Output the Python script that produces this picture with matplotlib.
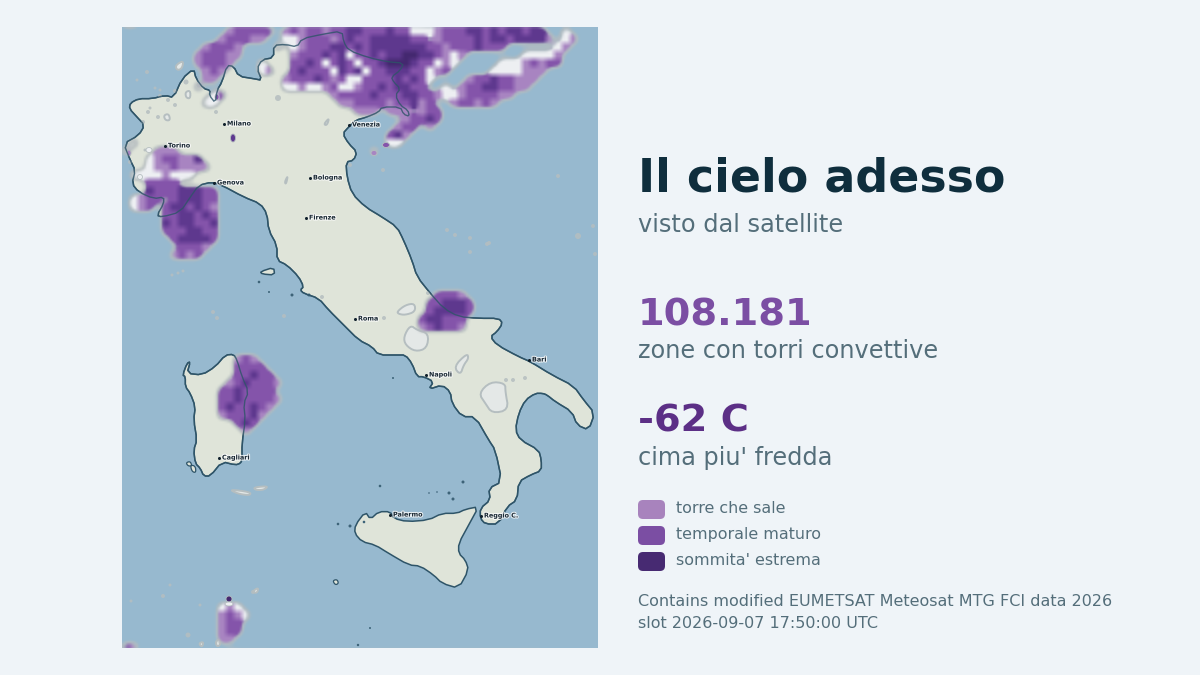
import numpy as np
import matplotlib
matplotlib.use("Agg")
import matplotlib.pyplot as plt
from matplotlib.patches import Polygon, Circle, FancyBboxPatch, Ellipse
import matplotlib.patheffects as pe

BG = "#eff4f8"; SEA = "#97b9cf"; LAND = "#dfe4d9"; COAST = "#2e5468"; GHOST = "#b5bec0"

TITLE = "Il cielo adesso"
SUBTITLE = "visto dal satellite"
STAT_VALUES = ["108.181", "-62 C"]
STAT_LABELS = ["zone con torri convettive", "cima piu' fredda"]
LEGEND_LABELS = ["torre che sale", "temporale maturo", "sommita' estrema"]
LEGEND_COLORS = ["#a883bd", "#7b4ea3", "#472a72"]
FOOTER = ["Contains modified EUMETSAT Meteosat MTG FCI data 2026", "slot 2026-09-07 17:50:00 UTC"]
CITY_NAMES = ["Milano", "Torino", "Venezia", "Genova", "Bologna", "Firenze", "Roma", "Napoli", "Bari", "Cagliari", "Palermo", "Reggio C."]
CITY_X = [224, 165, 349, 214, 310, 306, 355, 426, 529, 219, 390, 481]
CITY_Y = [124, 146, 125, 183, 178, 218, 319, 375, 360, 458, 515, 516]

# outlines in map pixels in three vertical bands
NORTH_A = [(5,350),(50,325),(68,295),(45,270),(22,245),(25,228),(50,215),(90,215),(130,205),(155,212),(180,155),(215,125),(222,155),(245,185),(265,190),(262,205),(280,228),(285,190),(300,165),(315,115),(335,118),(350,148),(395,155),(420,160),(405,125),(420,98),(455,92),(455,55),(490,52),(525,60),(540,35),(600,22),(660,12),(665,45),(680,70),(740,92),(800,105),(845,108),(835,130),(808,150),(815,165),(835,185),(820,205),(835,235),(858,250),(862,268),(845,262),(835,240),(780,240),(770,255),(735,270),(700,280),(680,300),(662,320),(680,350),(705,375),(695,400),(672,405),(675,450),(690,500),(730,540),(780,570),(825,600),(845,640),(870,700)]
MID_A = [(885,50),(925,100),(965,145),(1010,170),(1070,175),(1130,175),(1142,190),(1125,215),(1105,230),(1125,255),(1190,290),(1225,305),(1290,345),(1355,378),(1385,420),(1418,460),(1400,510),(1365,495),(1350,455),(1300,425),(1275,405),(1262,400),(1240,400),(1210,420),(1190,460),(1180,510),(1195,540),(1250,570),(1258,600)]
SOUTH_A = [(1258,62),(1225,75),(1190,95),(1185,150),(1155,170),(1130,222),(1090,222),(1075,205),(1075,175),(1105,150),(1100,115),(1140,95),(1120,0)]
MID_B = [(1100,540),(1060,470),(1020,470),(990,430),(985,395),(960,375),(920,388),(935,365),(905,350),(885,350),(870,310),(850,285),(825,285),(770,285),(750,260),(710,240),(665,195),(620,150),(590,115),(545,100),(535,90),(545,80),(530,50),(495,15)]
NORTH_B = [(465,700),(465,655),(440,610),(435,560),(415,530),(365,510),(300,475),(270,465),(230,475),(205,510),(175,555),(120,570),(105,565),(125,530),(125,510),(95,515),(50,495),(30,470),(40,430),(25,400)]
SARDINIA_MID = [(335,283),(345,300),(360,350),(380,395),(365,430),(370,480),(360,550),(360,600)]
SARDINIA_SOUTH = [(355,40),(340,45),(300,35),(265,78),(245,78),(235,55),(220,40),(215,0)]
SARDINIA_MID2 = [(225,540),(215,480),(220,440),(205,400),(190,380),(190,350),(182,345),(195,310),(205,305),(195,340),(240,345),(280,320),(310,285)]
SICILY = [(700,225),(730,185),(745,208),(770,185),(805,185),(815,205),(855,215),(920,210),(960,190),(1005,190),(1030,178),(1070,170),(1040,225),(1010,280),(1010,310),(1030,330),(1040,360),(1010,415),(960,400),(935,375),(895,348),(860,345),(800,310),(760,285),(720,275),(698,250)]
ELBA = [(415,35),(455,22),(458,45),(420,42)]
LITTLE_ISLANDS = [("s",[(192,38),(205,34),(210,48),(198,48)]),("s",[(205,45),(220,48),(222,68),(210,65)]),("s",[(632,392),(645,388),(650,400),(640,405)])]

# pale cloud shadows: (band, points)
GHOST_PATCHES = [
 ("m",[(845,230),(865,195),(885,210),(920,220),(915,265),(880,275),(850,255)]),
 ("m",[(825,155),(850,135),(878,130),(880,155),(850,165),(830,162)]),
 ("m",[(995,320),(1035,280),(1040,295),(1025,315),(1015,345)]),
 ("m",[(1070,400),(1105,365),(1150,370),(1150,395),(1160,450),(1110,460),(1090,430)]),
 ("s",[(395,112),(440,108),(425,120),(400,120)]),
 ("s",[(320,118),(385,126),(385,136),(350,132)]),
 ("s",[(390,425),(410,412),(405,430)]),
 ("s",[(280,575),(295,565),(295,585),(285,590)]),
 ("s",[(230,580),(245,575),(240,592)]),
 ("n",[(160,115),(185,100),(180,125),(165,130)]),
 ("n",[(605,292),(622,272),(615,295)]),
 ("n",[(488,465),(498,445),(492,472)]),
 ("n",[(125,265),(140,260),(145,280),(130,280)]),
 ("n",[(190,195),(205,190),(205,215),(192,212)]),
]
# small pale blobs: x, y, radius
BLOB_X = [137,147,155,160,168,175,186,148,158,199,216,278,447,455,470,487,578,593,595,558,284,322,384,428,450,506,172,178,183,213,217,250,170,200,131,163,253,188,150,160,143,175,145,130,383,350,470,489,513,525]
BLOB_Y = [80,72,88,96,100,91,82,112,117,85,112,98,230,235,238,244,236,226,254,176,316,297,318,293,300,380,275,273,271,312,318,365,585,605,601,596,592,635,108,90,122,105,150,162,170,165,252,243,380,378]
BLOB_R = [1.5,2,1.5,2,2,2,2.5,2,2,2.5,2,3,2,2,2,2,3,2,2,2,2,2,2,2,2,2,1.5,1.5,1.5,2,2,2,1.5,1.5,1.5,2,2,2.5,1.5,1.5,2,2,1.5,2,2,2,2,2,2,2]
# small dark islands: x, y, radius
ISLET_X = [259,269,292,309,393,463,380,429,437,449,453,364,338,350,370,358]
ISLET_Y = [282,292,295,295,378,482,486,493,492,493,499,522,524,526,628,645]
ISLET_R = [1.3,1,1.5,1.5,1,1.5,1.3,.8,.8,1.5,1.5,1.3,1.3,1.5,1,1.2]
# lone cloud spots too small for the grid: x, y, width, height, colour class
SPOT_X = [233, 229, 217, 386, 374, 129, 149, 140, 229]
SPOT_Y = [138, 599, 97, 145, 153, 153, 150, 177, 604]
SPOT_W = [5, 6, 4, 7, 6, 4, 6, 5, 8]
SPOT_H = [8, 6, 6, 5, 5, 6, 5, 5, 4]
SPOT_KIND = ["d", "x", "m", "m", "l", "l", "w", "w", "w"]

# cloud cells on an 8-pixel grid: row, first column, classes
CELLS = [
 (0,13,"lmmmmm"),(1,12,"lmmmll"),(2,10,"lmmml"),(3,9,"lmmmll"),(4,9,"lmmml"),(5,10,"lml"),(6,10,"ll"),(7,9,"l"),
 (8,11,"wm"),(9,10,"ww"),(4,17,"w"),(5,17,"wl"),
 (0,20,"lmlmmlmmddmmmdmm"),(0,36,"www"),(0,39,"lmmmddmdmddmdd"),(0,55,"w"),
 (1,20,"wwlmmmlmdmmdddddmm"),(1,39,"lmmmmdmddmddddl"),(1,55,"wl"),
 (2,19,"w"),(2,21,"wlmmmddmdmdddddddmmw"),(2,40,"lmmmdmmm"),(2,54,"wl"),
 (3,21,"lmmmdmdwmmdmddxxddmlw"),(3,42,"l"),(3,50,"wwwwl"),
 (4,21,"mmdmwmdmwmmdxxxdmmw"),(4,40,"lw"),(4,47,"wwwlmlmm"),
 (5,21,"mdmmmwdmdwmmdddmmw"),(5,39,"lm"),(5,46,"wwwwlll"),
 (6,20,"lmmmdmlmwwmmmmdmdmw"),(6,43,"lmmdmmlll"),
 (7,20,"wwlwwlmwwlmmdmddmm"),(7,40,"w"),(7,42,"lmmddmmll"),
 (8,26,"lmmmmdmmmddmm"),(8,39,"lw"),(8,41,"wlmmmmll"),
 (9,27,"llmmmmlmmdd"),(9,37,"lm"),(9,41,"lmmlml"),
 (10,29,"lll"),(10,33,"lll"),(10,37,"lmm"),
 (11,35,"lmmdm"),(12,34,"lmm"),(12,38,"l"),(13,33,"mdl"),(14,33,"ww"),(15,31,"l"),
 (15,4,"lll"),(16,3,"wlmmlld"),(17,3,"wllmllll"),(18,1,"wwwwlwww"),(15,0,"l"),(14,1,"w"),
 (19,3,"mmmm"),(20,3,"dmm"),(20,6,"mdddmm"),(21,1,"wlmm"),(21,6,"mdddmm"),
 (22,1,"wlm"),(22,5,"mddmdml"),(23,5,"mmddmdm"),(24,5,"dmddmmd"),(25,5,"mmmddmm"),(26,6,"mddddm"),(27,7,"mmml"),(28,6,"lmlm"),
 (33,39,"mmml"),(34,38,"mmdddm"),(35,38,"mddddm"),(36,37,"mddmmm"),(37,37,"lmdmml"),
 (41,14,"lml"),(42,14,"mmmm"),(43,14,"mmdmm"),(44,13,"lmdmmml"),(45,12,"mmdmmmm"),(46,12,"mmdmmmml"),(47,12,"mdmmdml"),(48,12,"lmmmdl"),(49,14,"mdm"),(50,15,"l"),
 (72,12,"wlw"),(73,12,"lmlw"),(74,12,"lmm"),(75,12,"lmm"),(76,12,"ll"),(77,0,"ml"),
]
CLOUD_RGBA = {"w": (0.93,0.94,0.95,0.95), "l": (0.66,0.52,0.76,0.95), "m": (0.52,0.33,0.67,0.97), "d": (0.37,0.22,0.56,0.98), "x": (0.27,0.16,0.44,1.0)}

def band(points, kind):
    dy = {"n": 27, "m": 260, "s": 450}[kind]
    return [(122 + x / 3, dy + y / 3) for x, y in points]

def soften(points, passes=2):
    # corner cutting, so that the traced outlines read as curves
    p = np.asarray(points, float)
    for _ in range(passes):
        q = np.roll(p, -1, axis=0)
        p = np.column_stack([0.75*p + 0.25*q, 0.25*p + 0.75*q]).reshape(-1, 2)
    return p

def box_blur(a, radius):
    out = np.zeros_like(a)
    n = 0
    for dy in range(-radius, radius + 1):
        for dx in range(-radius, radius + 1):
            out += np.roll(np.roll(a, dy, axis=0), dx, axis=1)
            n += 1
    return out / n

fig = plt.figure(figsize=(12, 6.75), dpi=100, facecolor=BG)
ax = fig.add_axes([122/1200, 1-648/675, 476/1200, 621/675])
ax.set_xlim(122, 598); ax.set_ylim(648, 27); ax.axis("off")
ax.add_patch(plt.Rectangle((122, 27), 476, 621, fc=SEA, ec="none", zorder=0))

main = soften(band(NORTH_A,"n")+band(MID_A,"m")+band(SOUTH_A,"s")+band(MID_B,"m")+band(NORTH_B,"n"), 1)
sard = soften(band(SARDINIA_MID,"m")+band(SARDINIA_SOUTH,"s")+band(SARDINIA_MID2,"m"), 1)
for pts in (main, sard, soften(band(SICILY,"s"), 1), soften(band(ELBA,"m"), 1)):
    ax.add_patch(Polygon(pts, closed=True, fc=LAND, ec=COAST, lw=1.1, zorder=2, joinstyle="round"))
for kind, pts in LITTLE_ISLANDS:
    ax.add_patch(Polygon(soften(band(pts,kind)), closed=True, fc=LAND, ec=COAST, lw=0.9, zorder=2))

for kind, pts in GHOST_PATCHES:
    ax.add_patch(Polygon(soften(band(pts,kind)), closed=True, fc="#e4e8e7", ec=GHOST, lw=1.4, zorder=3, joinstyle="round"))
for x, y, r in zip(BLOB_X, BLOB_Y, BLOB_R):
    ax.add_patch(Circle((x, y), r, fc=GHOST, ec="none", alpha=.85, zorder=3))
for x, y, r in zip(ISLET_X, ISLET_Y, ISLET_R):
    ax.add_patch(Circle((x, y), r, fc="#3d6378", ec="none", zorder=3))

grid = np.zeros((78, 60, 4))
for row, col, s in CELLS:
    for i, ch in enumerate(s):
        grid[row, col + i] = CLOUD_RGBA[ch]
# 2-pixel render of the cells: colour softened a little, outer shape rounded more, pale rim round it
fine = np.repeat(np.repeat(grid, 4, axis=0), 4, axis=1)
prem = fine.copy(); prem[..., :3] *= prem[..., 3:4]
near = box_blur(prem, 1)
far = box_blur(prem, 6)
use_far = near[..., 3:4] < 0.02
blend = np.where(use_far, far, near)
rgb = blend[..., :3] / np.maximum(blend[..., 3:4], 1e-3)
wide = box_blur(box_blur(fine[..., 3], 2), 2)
cloud = np.dstack([np.clip(rgb, 0, 1), np.clip((wide - 0.42) * 5.0, 0, 1)])
rim = np.zeros(fine.shape)
rim[..., :3] = (0.71, 0.74, 0.75)
rim[..., 3] = np.clip((wide - 0.2) * 5.0, 0, 0.8)
ax.imshow(rim, extent=(122, 602, 651, 27), interpolation="bilinear", zorder=3.5, aspect="auto")
ax.imshow(cloud, extent=(122, 602, 651, 27), interpolation="bilinear", zorder=4, aspect="auto")
ax.set_xlim(122, 598); ax.set_ylim(648, 27)
for x, y, w, h, k in zip(SPOT_X, SPOT_Y, SPOT_W, SPOT_H, SPOT_KIND):
    ax.add_patch(Ellipse((x, y), w, h, fc=CLOUD_RGBA[k][:3], ec=GHOST, lw=.6, zorder=4.5))
# borders stay visible above the clouds
ax.add_patch(Polygon(main, closed=True, fc="none", ec=COAST, lw=1.0, alpha=.8, zorder=5))
ax.add_patch(Polygon(sard, closed=True, fc="none", ec=COAST, lw=1.0, alpha=.8, zorder=5))

halo = [pe.withStroke(linewidth=1.5, foreground="white", alpha=.8)]
for n, x, y in zip(CITY_NAMES, CITY_X, CITY_Y):
    ax.plot([x], [y], "o", ms=2.2, color="#10202c", mew=0, zorder=7)
    ax.text(x + 3, y, n, fontsize=4.6, color="#1c2b36", va="center", ha="left", fontweight="bold", zorder=7, path_effects=halo)

ov = fig.add_axes([0, 0, 1, 1], facecolor="none")
ov.set_xlim(0, 1200); ov.set_ylim(675, 0); ov.axis("off")
LEFT = 638
ov.text(LEFT, 174, TITLE, fontsize=33.0, fontweight="bold", color="#0f2e3d", va="center_baseline")
ov.text(LEFT, 223, SUBTITLE, fontsize=17.3, color="#546e7a", va="center_baseline")
for val, lab, c, y in zip(STAT_VALUES, STAT_LABELS, ["#7b4ea3", "#5c2f86"], [311, 417]):
    ov.text(LEFT, y, val, fontsize=27.6, fontweight="bold", color=c, va="center_baseline")
    ov.text(LEFT, y + 38, lab, fontsize=17.3, color="#546e7a", va="center_baseline")
for lab, c, y in zip(LEGEND_LABELS, LEGEND_COLORS, [500, 526, 552]):
    ov.add_patch(FancyBboxPatch((LEFT, y), 27, 19, boxstyle="round,pad=0,rounding_size=5", fc=c, ec="none"))
    ov.text(LEFT + 38, y + 7, lab, fontsize=11.4, color="#546e7a", va="center_baseline")
for t, y in zip(FOOTER, [600, 622]):
    ov.text(LEFT, y, t, fontsize=11.5, color="#546e7a", va="center_baseline")

fig.savefig("out.png", dpi=100, facecolor=BG)
